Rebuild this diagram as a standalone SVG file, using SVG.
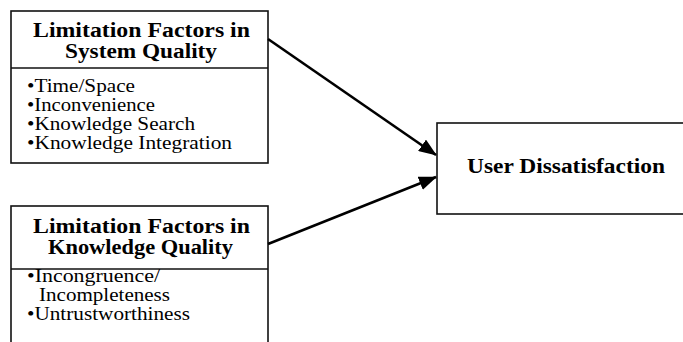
<svg xmlns="http://www.w3.org/2000/svg" width="683" height="342" viewBox="0 0 683 342">
<defs>
<style>
.box{fill:#fff;stroke:#111;stroke-width:1.6}
.div{stroke:#111;stroke-width:1.6}
.t{font-family:"Liberation Serif","Times New Roman",serif;font-weight:bold;font-size:20px;fill:#000}
.b{font-family:"Liberation Serif","Times New Roman",serif;font-size:18px;fill:#000}
.c{stroke:#000;stroke-width:2.6;fill:none}
</style>
<marker id="ah" markerUnits="userSpaceOnUse" markerWidth="18" markerHeight="14" viewBox="0 0 18 14" refX="17" refY="7" orient="auto">
<path d="M0,0 L18,7 L0,14 Z" fill="#000"/>
</marker>
</defs>
<rect width="683" height="342" fill="#fff"/>
<g id="node-system">
<rect class="box" x="11" y="11" width="257" height="152"/>
<line class="div" x1="11" y1="68" x2="268" y2="68"/>
<text class="t" x="33" y="37" textLength="217" lengthAdjust="spacingAndGlyphs">Limitation Factors in</text>
<text class="t" x="65" y="58" textLength="152" lengthAdjust="spacingAndGlyphs">System Quality</text>
<text class="b" x="27" y="92" textLength="108" lengthAdjust="spacingAndGlyphs">•Time/Space</text>
<text class="b" x="27" y="111" textLength="128" lengthAdjust="spacingAndGlyphs">•Inconvenience</text>
<text class="b" x="27" y="130" textLength="168" lengthAdjust="spacingAndGlyphs">•Knowledge Search</text>
<text class="b" x="27" y="149" textLength="205" lengthAdjust="spacingAndGlyphs">•Knowledge Integration</text>
</g>
<g id="node-knowledge">
<rect class="box" x="11" y="206" width="257" height="150"/>
<line class="div" x1="11" y1="269" x2="268" y2="269"/>
<text class="t" x="33" y="233" textLength="217" lengthAdjust="spacingAndGlyphs">Limitation Factors in</text>
<text class="t" x="48" y="254" textLength="185" lengthAdjust="spacingAndGlyphs">Knowledge Quality</text>
<text class="b" x="27" y="282" textLength="133" lengthAdjust="spacingAndGlyphs">•Incongruence/</text>
<text class="b" x="39" y="301" textLength="131" lengthAdjust="spacingAndGlyphs">Incompleteness</text>
<text class="b" x="27" y="320" textLength="163" lengthAdjust="spacingAndGlyphs">•Untrustworthiness</text>
</g>
<g id="node-user">
<rect class="box" x="437" y="123" width="260" height="91"/>
<text class="t" x="467" y="173" textLength="198" lengthAdjust="spacingAndGlyphs">User Dissatisfaction</text>
</g>
<g id="connectors">
<line class="c" x1="268" y1="39" x2="436" y2="155" marker-end="url(#ah)"/>
<line class="c" x1="268" y1="244" x2="436" y2="177" marker-end="url(#ah)"/>
</g>
</svg>
